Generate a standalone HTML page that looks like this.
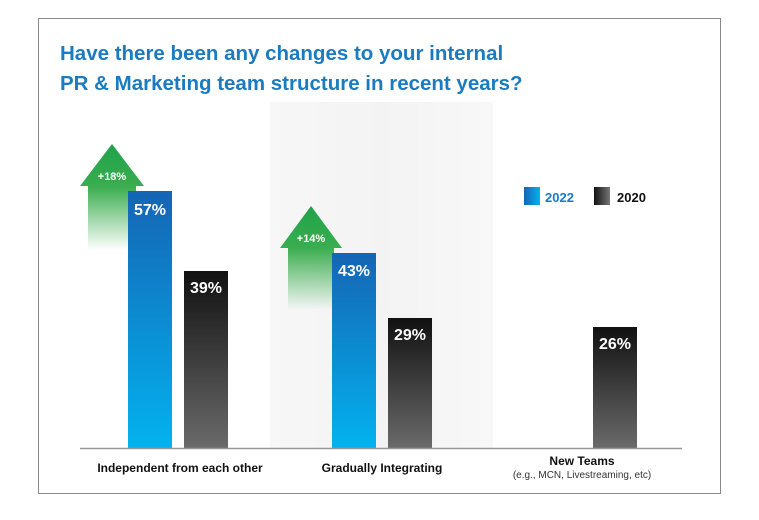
<!DOCTYPE html>
<html><head><style>
body{margin:0;background:#fff;font-family:"Liberation Sans",Arial,sans-serif;}
</style></head><body>
<svg width="759" height="515" viewBox="0 0 759 515" xmlns="http://www.w3.org/2000/svg">
<defs>
<linearGradient id="bl" x1="0" y1="0" x2="0" y2="1"><stop offset="0" stop-color="#1565b4"/><stop offset="1" stop-color="#03b2ef"/></linearGradient>
<linearGradient id="bk" x1="0" y1="0" x2="0" y2="1"><stop offset="0" stop-color="#111"/><stop offset="1" stop-color="#6a6a6a"/></linearGradient>
<linearGradient id="gr" x1="0" y1="0" x2="0" y2="1"><stop offset="0" stop-color="#1fa24a"/><stop offset="0.4" stop-color="#3aad4f"/><stop offset="1" stop-color="#3aad4f" stop-opacity="0"/></linearGradient>
<linearGradient id="lb" x1="0" y1="0" x2="1" y2="0"><stop offset="0" stop-color="#1565b4"/><stop offset="1" stop-color="#03b2ef"/></linearGradient>
<linearGradient id="lk" x1="0" y1="0" x2="1" y2="0"><stop offset="0" stop-color="#111"/><stop offset="1" stop-color="#777"/></linearGradient>
<linearGradient id="band" x1="0" y1="0" x2="1" y2="0"><stop offset="0" stop-color="#f7f7f7"/><stop offset="0.5" stop-color="#f3f3f3"/><stop offset="1" stop-color="#f8f8f8"/></linearGradient>
</defs>
<rect x="38.5" y="18.5" width="682" height="475" fill="#fff" stroke="#8a8a8a" stroke-width="1"/>
<rect x="270" y="102" width="223" height="346" fill="url(#band)"/>
<text x="60" y="60" font-size="20.5" font-weight="bold" fill="#1b7bc1">Have there been any changes to your internal</text>
<text x="60" y="90" font-size="20.5" font-weight="bold" fill="#1b7bc1">PR &amp; Marketing team structure in recent years?</text>
<path d="M112 144 L144 186 L136 186 L136 250 L88 250 L88 186 L80 186 Z" fill="url(#gr)"/>
<text x="112" y="180" font-size="11" font-weight="bold" fill="#fff" text-anchor="middle">+18%</text>
<path d="M311 206 L342 248 L334 248 L334 310 L288 310 L288 248 L280 248 Z" fill="url(#gr)"/>
<text x="311" y="242" font-size="11" font-weight="bold" fill="#fff" text-anchor="middle">+14%</text>
<rect x="128" y="191" width="44" height="257" fill="url(#bl)"/>
<rect x="184" y="271" width="44" height="177" fill="url(#bk)"/>
<rect x="332" y="253" width="44" height="195" fill="url(#bl)"/>
<rect x="388" y="318" width="44" height="130" fill="url(#bk)"/>
<rect x="593" y="327" width="44" height="121" fill="url(#bk)"/>
<g font-size="16" font-weight="bold" fill="#fff" text-anchor="middle">
<text x="150" y="215">57%</text><text x="206" y="293">39%</text>
<text x="354" y="276">43%</text><text x="410" y="340">29%</text>
<text x="615" y="349">26%</text></g>
<line x1="80" y1="448.5" x2="682" y2="448.5" stroke="#999" stroke-width="1.5"/>
<g font-size="12" font-weight="bold" fill="#111" text-anchor="middle">
<text x="180" y="472">Independent from each other</text>
<text x="382" y="472">Gradually Integrating</text>
<text x="582" y="465">New Teams</text></g>
<text x="582" y="478" font-size="10" fill="#333" text-anchor="middle">(e.g., MCN, Livestreaming, etc)</text>
<rect x="524" y="187" width="16" height="18" fill="url(#lb)"/>
<text x="545" y="202" font-size="13" font-weight="bold" fill="#1b7bc1">2022</text>
<rect x="594" y="187" width="16" height="18" fill="url(#lk)"/>
<text x="617" y="202" font-size="13" font-weight="bold" fill="#111">2020</text>
</svg>
</body></html>
